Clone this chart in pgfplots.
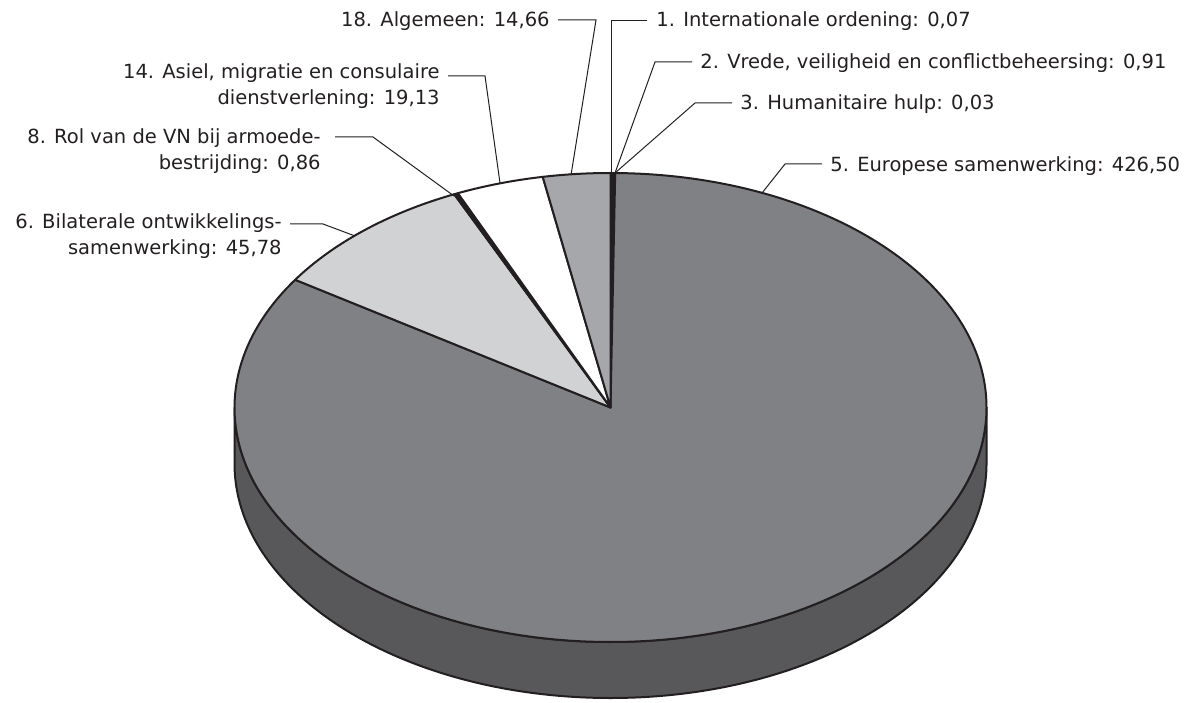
\documentclass[border=0pt]{standalone}
\usepackage{pgfplots}
\pgfplotsset{compat=1.18}
\usepackage{pgfplotstable}
\usepackage{fontspec}
\setmainfont{DejaVu Sans}
\definecolor{cfive}{HTML}{808185}
\definecolor{cside}{HTML}{58585A}
\definecolor{csix}{HTML}{D1D2D4}
\definecolor{ceighteen}{HTML}{A6A7AA}
\definecolor{cblk}{HTML}{231F20}
\definecolor{cwhite}{HTML}{FFFFFF}

\pgfplotstableread{
nr value col
1 0.07 cblk
2 0.91 cblk
3 0.03 cblk
5 426.50 cfive
6 45.78 csix
8 0.86 cblk
14 19.13 cwhite
18 14.66 ceighteen
}\piedata

\begin{document}
\begin{tikzpicture}
\begin{axis}[hide axis, scale only axis, width=593pt, height=351pt,
  xmin=0, xmax=1186, ymin=0, ymax=702, clip=false]
\path[use as bounding box] (axis cs:0,0) rectangle (axis cs:1186,702);
\pgfplotsextra{
  \pgfplotstablegetrowsof{\piedata}
  \pgfmathtruncatemacro{\nrows}{\pgfplotsretval-1}
  \gdef\pietotal{0}
  \foreach \i in {0,...,\nrows}{
    \pgfplotstablegetelem{\i}{value}\of\piedata
    \pgfmathsetmacro{\tmpsum}{\pietotal+\pgfplotsretval}
    \xdef\pietotal{\tmpsum}
  }
  % side of the pie
  \fill[cside, draw=cblk, line width=1pt, line join=round]
    (axis cs:234.5,294.5) arc[start angle=180, end angle=360, x radius=188pt, y radius=117.25pt]
    -- ++(0,-28pt) arc[start angle=360, end angle=180, x radius=188pt, y radius=117.25pt] -- cycle;
  % slices
  \gdef\piecum{0}
  \foreach \i in {0,...,\nrows}{
    \pgfplotstablegetelem{\i}{value}\of\piedata
    \let\pieval\pgfplotsretval
    \pgfplotstablegetelem{\i}{col}\of\piedata
    \let\piecol\pgfplotsretval
    \pgfmathsetmacro{\pstart}{90-(\piecum/\pietotal)*360}
    \pgfmathsetmacro{\tmpcum}{\piecum+\pieval}
    \pgfmathsetmacro{\pend}{90-(\tmpcum/\pietotal)*360}
    \fill[fill=\piecol, draw=cblk, line width=1pt, line join=round]
      (axis cs:610.5,294.5) -- ([shift={(\pstart:188pt and 117.25pt)}]axis cs:610.5,294.5)
      arc[start angle=\pstart, end angle=\pend, x radius=188pt, y radius=117.25pt] -- cycle;
    \xdef\piecum{\tmpcum}
  }
}
% leader lines
\draw[cblk, line width=0.5pt] (axis cs:611,529) -- (axis cs:611,681) -- (axis cs:647,681);
\draw[cblk, line width=0.5pt] (axis cs:615,529) -- (axis cs:655,640) -- (axis cs:692,640);
\draw[cblk, line width=0.5pt] (axis cs:615,529) -- (axis cs:695,599) -- (axis cs:732,599);
\draw[cblk, line width=0.5pt] (axis cs:762,509) -- (axis cs:785,538) -- (axis cs:822,538);
\draw[cblk, line width=0.5pt] (axis cs:571,527) -- (axis cs:596,682) -- (axis cs:558,682);
\draw[cblk, line width=0.5pt] (axis cs:500,519) -- (axis cs:485,626) -- (axis cs:448,626);
\draw[cblk, line width=0.5pt] (axis cs:454,506) -- (axis cs:373,565) -- (axis cs:335,565);
\draw[cblk, line width=0.5pt] (axis cs:355,466) -- (axis cs:323,478) -- (axis cs:290,478);
% labels
\tikzset{lbl/.style={inner sep=0pt, text=cblk, font=\fontsize{9.75pt}{13pt}\selectfont}}
\node[lbl, anchor=base west] at (axis cs:656,675) {1. Internationale ordening: 0,07};
\node[lbl, anchor=base west] at (axis cs:700,633) {2. Vrede, veiligheid en conflictbeheersing: 0,91};
\node[lbl, anchor=base west] at (axis cs:740,592) {3. Humanitaire hulp: 0,03};
\node[lbl, anchor=base west] at (axis cs:830,530) {5. Europese samenwerking: 426,50};
\node[lbl, anchor=base east] at (axis cs:550,675) {18. Algemeen: 14,66};
\node[lbl, anchor=base east] at (axis cs:440,623) {14. Asiel, migratie en consulaire};
\node[lbl, anchor=base east] at (axis cs:440,597) {dienstverlening: 19,13};
\node[lbl, anchor=base east] at (axis cs:321,558) {8. Rol van de VN bij armoede-};
\node[lbl, anchor=base east] at (axis cs:321,532) {bestrijding: 0,86};
\node[lbl, anchor=base east] at (axis cs:282,473) {6. Bilaterale ontwikkelings-};
\node[lbl, anchor=base east] at (axis cs:282,447) {samenwerking: 45,78};
\end{axis}
\end{tikzpicture}
\end{document}
